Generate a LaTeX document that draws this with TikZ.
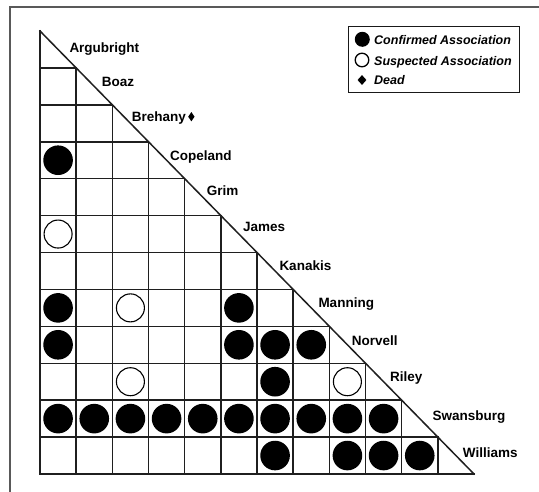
\documentclass[tikz,border=0pt]{standalone}
\usepackage{fontspec}
\setmainfont{Liberation Sans}
\usetikzlibrary{shapes.geometric}
\begin{document}
\begin{tikzpicture}[x=1pt,y=-1pt,
  gridline/.style={line width=1.5pt, draw=black!88, line cap=rect},
  frameline/.style={line width=1.4pt, draw=black!65},
  conf/.style={circle, fill=black, inner sep=0pt, minimum size=29.6pt},
  susp/.style={circle, draw=black, line width=1.1pt, fill=white, inner sep=0pt, minimum size=28pt},
  namelabel/.style={anchor=base west, font=\bfseries\fontsize{13.5}{15}\selectfont, inner sep=0pt},
  legtext/.style={anchor=base west, font=\bfseries\itshape\fontsize{12.5}{14}\selectfont, inner sep=0pt},
  deadmark/.style={diamond, fill=black, inner sep=0pt, minimum width=6.5pt, minimum height=9.5pt}]
\useasboundingbox[fill=white] (0,0) rectangle (539,491);
\def\W{36.1667}
\def\H{36.9167}
% outer frame (only top and left visible)
\draw[frameline] (10,495) -- (10,7) -- (545,7);
% grid
\foreach \i in {1,...,12}
  \draw[gridline] (40,{31+\i*\H}) -- ({40+\i*\W},{31+\i*\H});
\foreach \j in {0,...,11}
  \draw[gridline] ({40+\j*\W},{31+\j*\H}) -- ({40+\j*\W},{31+12*\H});
\draw[gridline] (40,31) -- ({40+12*\W},{31+12*\H});
% names
\foreach \n/\x/\y [count=\i from 0] in {Argubright/69.3/52.7, Boaz/101.7/86.7, Brehany/131.7/121.5,
    Copeland/170/160, Grim/206.7/195, James/243/231, Kanakis/279.3/270, Manning/318.3/307.3,
    Norvell/351.7/345, Riley/390/381.7, Swansburg/432.3/420.7, Williams/462.7/457.7}
  \node[namelabel] (n\i) at (\x,\y) {\n};
\node[deadmark, anchor=west] (dead) at ([xshift=1.8pt,yshift=4.8pt]n2.base east) {};
% confirmed associations (row, column)
\foreach \r/\c in {3/0, 7/0, 7/5, 8/0, 8/5, 8/6, 8/7, 9/6,
                   10/0, 10/1, 10/2, 10/3, 10/4, 10/5, 10/6, 10/7, 10/8, 10/9,
                   11/6, 11/8, 11/9, 11/10}
  \node[conf] (f-\r-\c) at ({40+(\c+0.5)*\W},{31+(\r+0.5)*\H}) {};
% suspected associations
\foreach \r/\c in {5/0, 7/2, 9/2, 9/8}
  \node[susp] (s-\r-\c) at ({40+(\c+0.5)*\W},{31+(\r+0.5)*\H}) {};
% legend
\node[draw=black!90, line width=1.4pt, inner sep=0pt, minimum width=171pt, minimum height=66pt, anchor=north west] (legend) at (348,25.7) {};
\node[conf, minimum size=15pt] (lconf) at (362.3,39.3) {};
\node[legtext] (tconf) at (374,44.3) {Confirmed Association};
\node[susp, minimum size=13.6pt, line width=1.3pt] (lsusp) at (362,60) {};
\node[legtext] (tsusp) at (374,65) {Suspected Association};
\node[deadmark, minimum width=9pt, minimum height=10pt] (ldead) at (362,80) {};
\node[legtext] (tdead) at (374,84.3) {Dead};
\end{tikzpicture}
\end{document}
